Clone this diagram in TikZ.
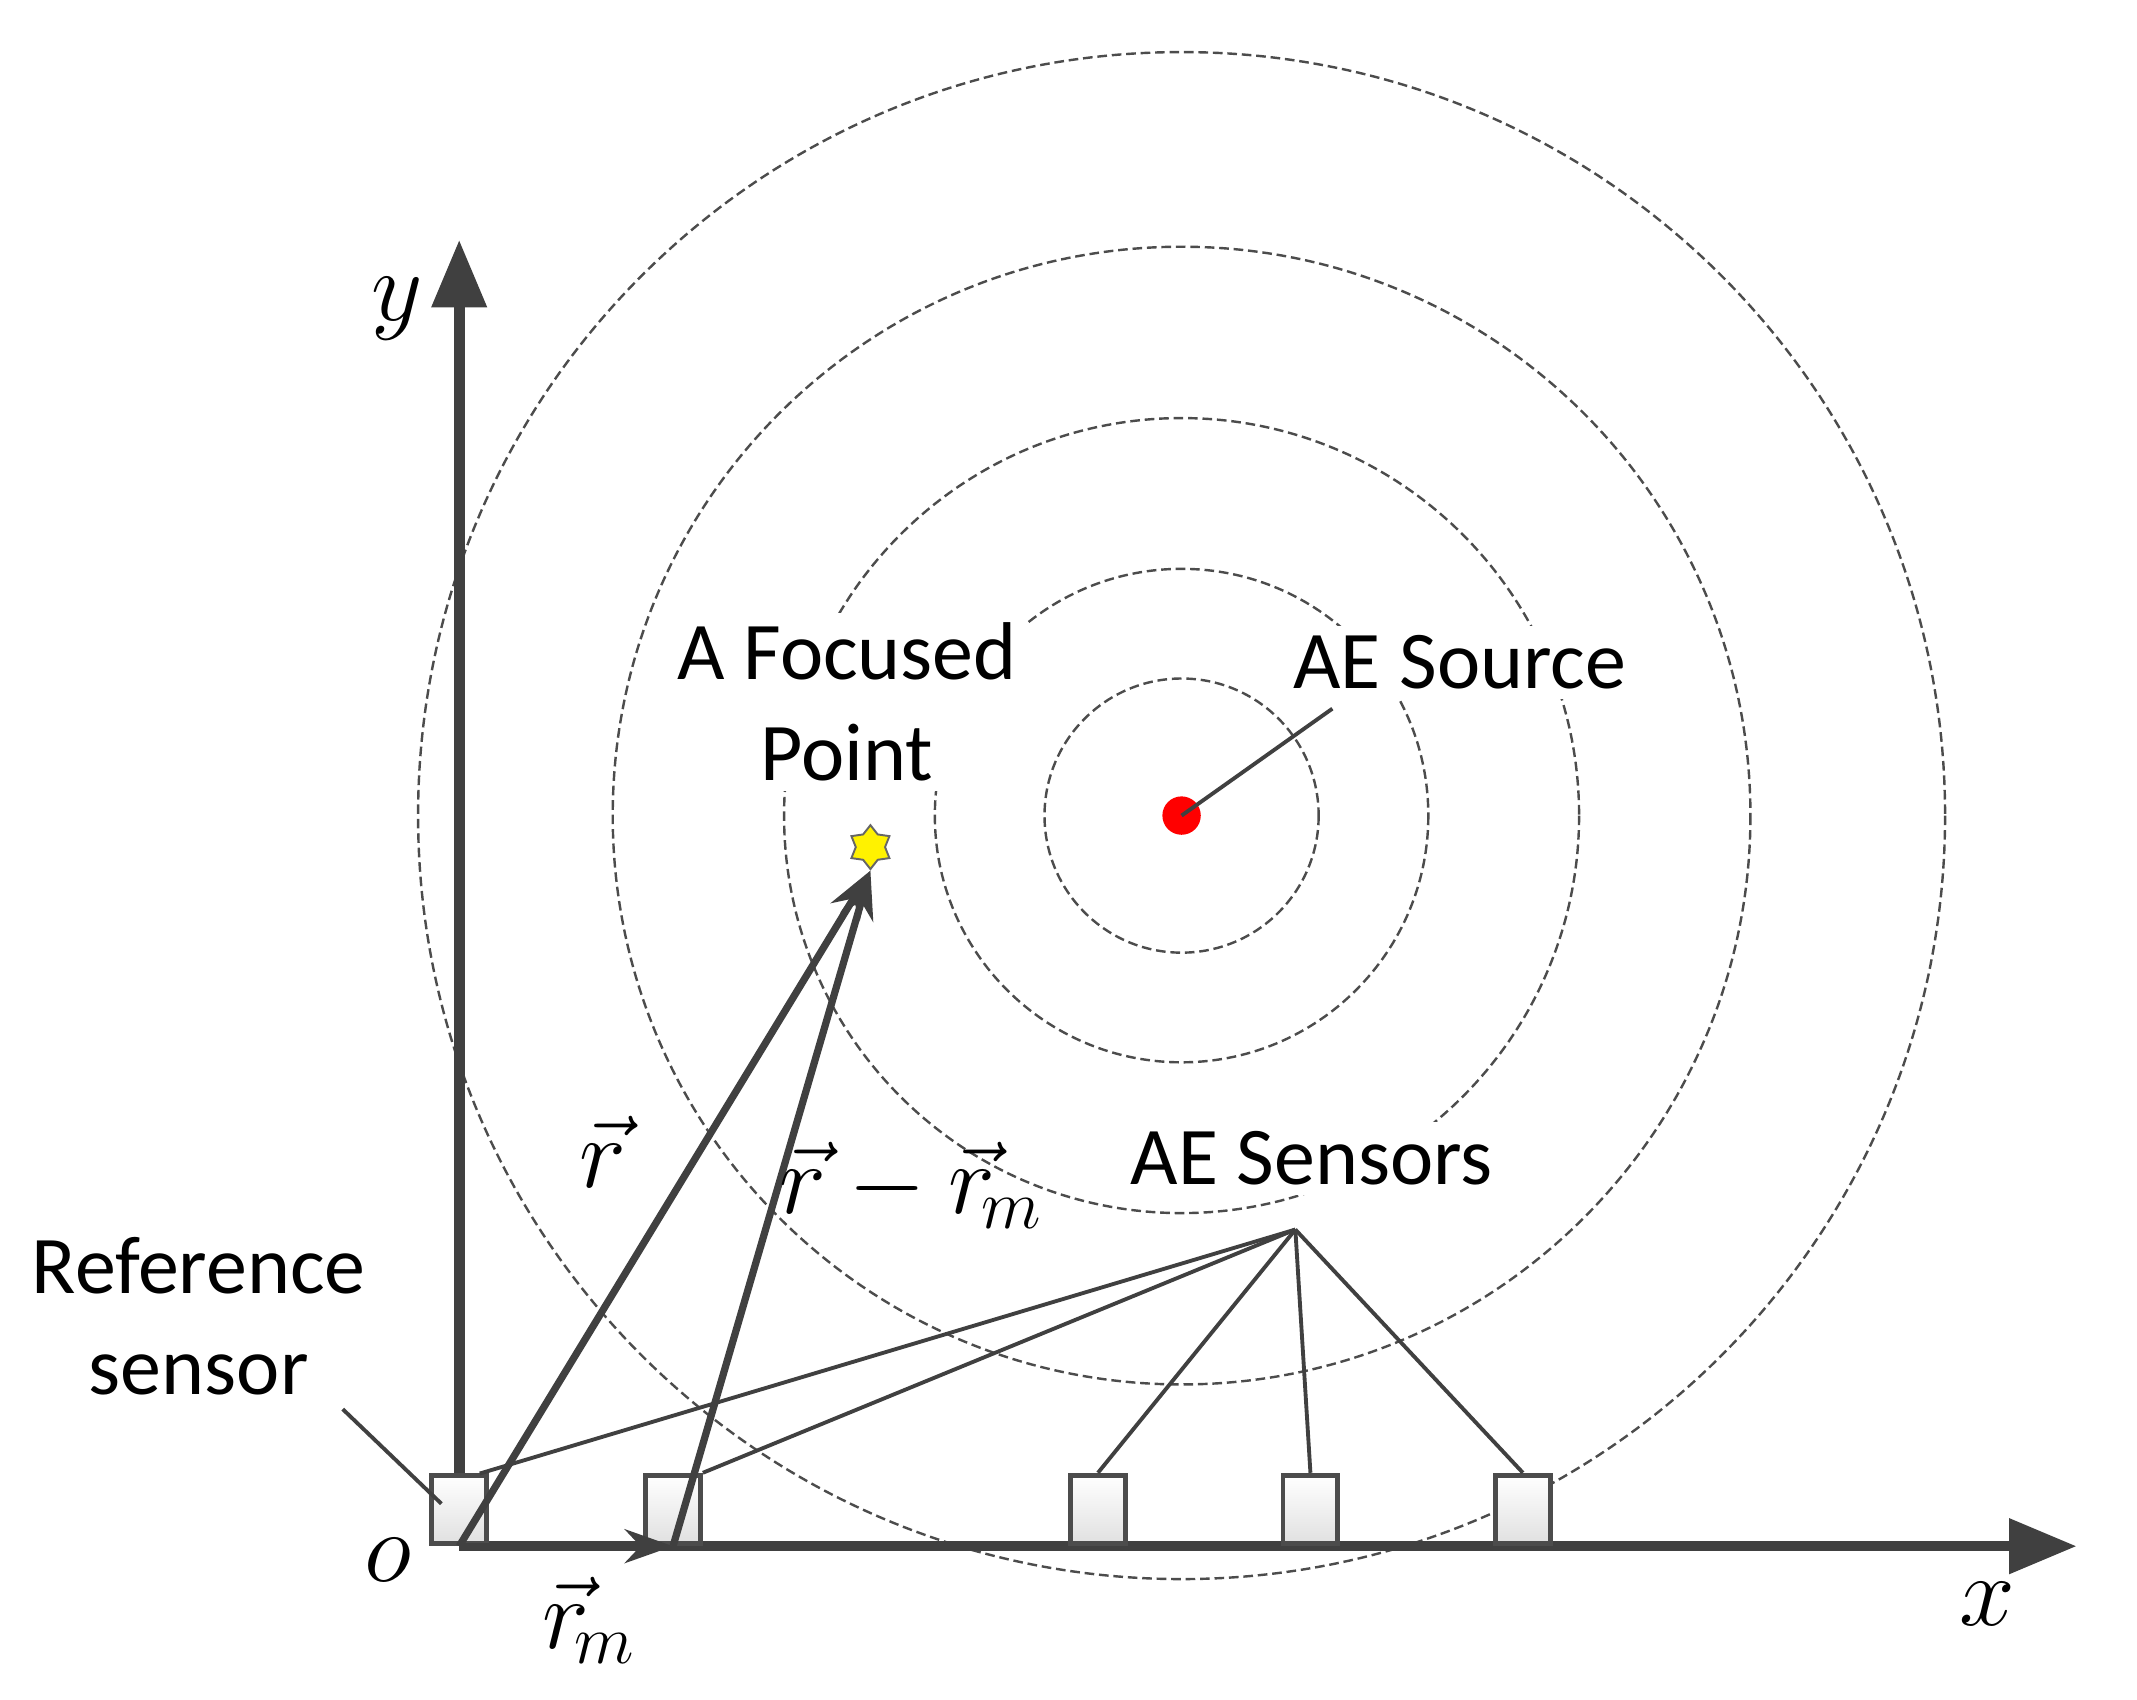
\documentclass[tikz,border=0pt]{standalone}
\usepackage{fontspec}
\setmainfont{Carlito}
\usetikzlibrary{shapes.geometric,arrows.meta}
\begin{document}
\begin{tikzpicture}[x=0.01cm,y=-0.01cm,
  ring/.style={draw=black!70,dashed,dash pattern=on 2pt off 1pt,line width=0.5pt},
  axis/.style={draw=black!75,line width=2.2pt,-{Triangle[length=14pt,width=11pt]}},
  vec/.style={draw=black!75,line width=1.5pt,-{Stealth[length=10pt,width=7pt]}},
  lead/.style={draw=black!75,line width=0.8pt},
  sensor/.style={draw=black!70,line width=1pt,minimum width=0.4cm,minimum height=0.5cm,inner sep=0pt,top color=white,bottom color=black!12},
  lbl/.style={font=\fontsize{17}{21}\selectfont,align=center,fill=white,inner sep=2pt},
  mlbl/.style={font=\fontsize{20}{22}\selectfont}]
\useasboundingbox (0,0) rectangle (1559,1240);
\coordinate (c) at (862,595);
\foreach \r in {100,180,290,415,557} \draw[ring] (c) circle (\r);
\node[lbl] (fp) at (618,512) {A Focused\\Point};
\node[lbl] (src) at (1065,483) {AE Source};
\node[lbl] (aes) at (957,845) {AE Sensors};
\node[lbl,fill=none] (ref) at (145,960) {Reference\\sensor};
\node[circle,fill=red,minimum size=0.28cm,inner sep=0pt] (dot) at (c) {};
\node[star,star points=6,fill=yellow,draw=black!60,minimum size=0.32cm,inner sep=0pt] (st) at (635,618) {};
\coordinate (o) at (335,1128);
\draw[axis] (o) -- (335,175);
\draw[axis] (o) -- (1515,1128);
\node[sensor,anchor=south] (s1) at (335,1128) {};
\node[sensor,anchor=south] (s2) at (491,1128) {};
\node[sensor,anchor=south] (s3) at (801,1128) {};
\node[sensor,anchor=south] (s4) at (956,1128) {};
\node[sensor,anchor=south] (s5) at (1111,1128) {};
\coordinate (ap) at (945,897);
\draw[lead] (ap) -- (s3.north);
\draw[lead] (ap) -- (s4.north);
\draw[lead] (ap) -- (s5.north);
\draw[lead] (ap) -- (350,1075);
\draw[lead] (ap) -- (s2.north east);
\draw[lead] (972,517) -- (dot.center);
\draw[lead] (250,1028) -- (322,1097);
\coordinate (o2) at (491,1128);
\draw[vec] (o) -- (st.south);
\draw[vec] (o2) -- (st.south);
\draw[vec] (o) -- (o2);
\node[mlbl] at (440,840) {$\vec{r}$};
\node[mlbl] at (665,865) {$\vec{r}-\vec{r}_{\!m}$};
\node[mlbl] at (430,1182) {$\vec{r}_{\!m}$};
\node[mlbl] at (283,1138) {$o$};
\node[mlbl] at (1450,1170) {$x$};
\node[mlbl] at (290,225) {$y$};
\end{tikzpicture}
\end{document}
